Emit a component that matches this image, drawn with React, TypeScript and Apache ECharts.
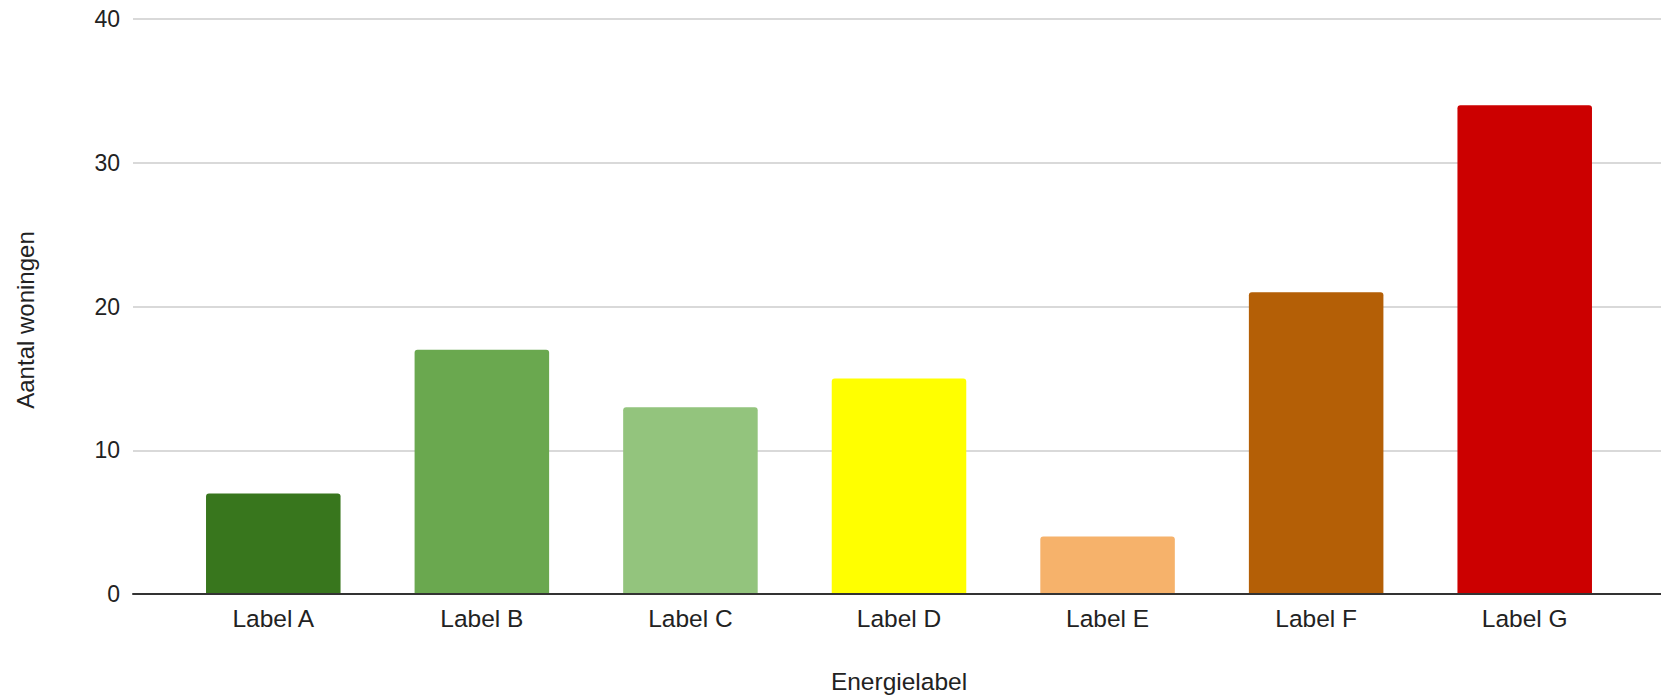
import React, { useEffect, useRef } from "react";
import * as echarts from "echarts";

const categories = ["Label A", "Label B", "Label C", "Label D", "Label E", "Label F", "Label G"];
const values = [7, 17, 13, 15, 4, 21, 34];
const barColors = ["#38761d", "#6aa84f", "#93c47d", "#ffff00", "#f6b26b", "#b45f06", "#cc0000"];
const yTicks = { min: 0, max: 40, interval: 10 };
const xTitle = "Energielabel";
const yTitle = "Aantal woningen";

const FONT = "'Liberation Sans', Arial, sans-serif";

export default function App() {
  const ref = useRef<HTMLDivElement>(null);
  useEffect(() => {
    if (!ref.current) return;
    const chart = echarts.init(ref.current, undefined, { renderer: "svg" });
    const top = 19;
    const bottom = 102;
    chart.setOption({
      animation: false,
      backgroundColor: "#ffffff",
      textStyle: { fontFamily: FONT },
      grid: [
        { left: 133, right: 0, top, bottom },
        { left: 169, right: 32, top, bottom },
      ],
      xAxis: [
        {
          type: "value",
          gridIndex: 0,
          min: 0,
          max: 1,
          axisLabel: { show: false },
          axisTick: { show: false },
          splitLine: { show: false },
          axisLine: { show: true, lineStyle: { color: "#333333", width: 2 } },
          z: 5,
        },
        {
          type: "category",
          gridIndex: 1,
          data: categories,
          axisLine: { show: false },
          axisTick: { show: false },
          axisLabel: { color: "#222222", fontSize: 24.5, fontFamily: FONT, margin: 12 },
        },
      ],
      yAxis: [
        {
          type: "value",
          gridIndex: 0,
          min: yTicks.min,
          max: yTicks.max,
          interval: yTicks.interval,
          axisLine: { show: false },
          axisTick: { show: false },
          axisLabel: { color: "#222222", fontSize: 23, fontFamily: FONT, margin: 13 },
          splitLine: { show: true, lineStyle: { color: "#cccccc", width: 1.5 } },
        },
        {
          type: "value",
          gridIndex: 1,
          min: yTicks.min,
          max: yTicks.max,
          interval: yTicks.interval,
          show: false,
          splitLine: { show: false },
        },
      ],
      series: [
        {
          type: "bar",
          xAxisIndex: 1,
          yAxisIndex: 1,
          barWidth: "64.5%",
          data: values.map((v, i) => ({
            value: v,
            itemStyle: { color: barColors[i], borderRadius: [3, 3, 0, 0] },
          })),
        },
      ],
      graphic: [
        {
          type: "text",
          x: 899,
          y: 681,
          style: {
            text: xTitle,
            fill: "#222222",
            font: `24.5px ${FONT}`,
            align: "center",
            verticalAlign: "middle",
          },
        },
        {
          type: "text",
          x: 25,
          y: 320,
          rotation: Math.PI / 2,
          style: {
            text: yTitle,
            fill: "#222222",
            font: `24px ${FONT}`,
            align: "center",
            verticalAlign: "middle",
          },
        },
      ],
    });
    return () => chart.dispose();
  }, []);
  return (
    <div
      ref={ref}
      style={{ position: "fixed", left: 0, top: 0, width: 1661, height: 696 }}
    />
  );
}
